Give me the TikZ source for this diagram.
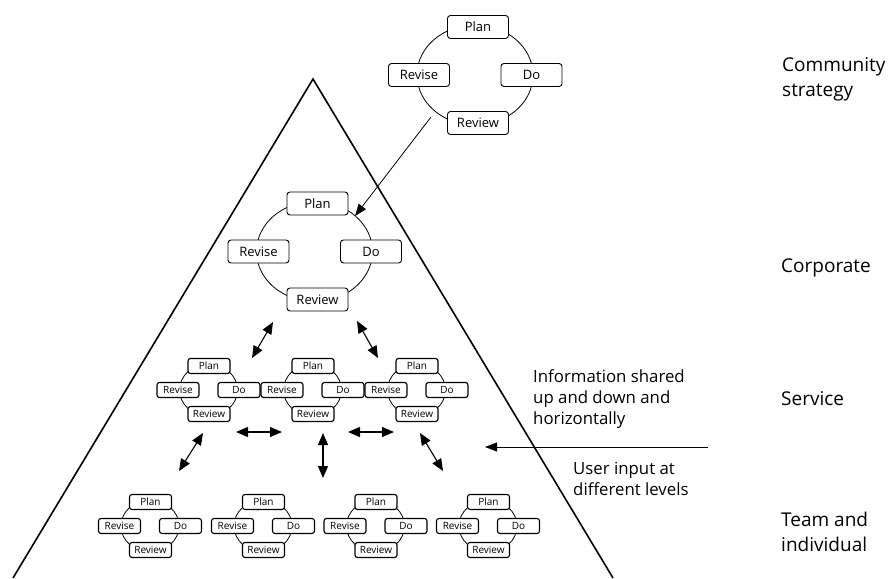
\documentclass[tikz,border=0pt]{standalone}
\usepackage{fontspec}
\setmainfont{Open Sans}
\usetikzlibrary{arrows.meta}

\tikzset{
  bigbox/.style={draw, rounded corners=3pt, fill=white, line width=0.9pt,
    minimum width=61pt, minimum height=23pt, inner sep=0pt,
    font=\fontsize{13}{15}\selectfont},
  smallbox/.style={draw, rounded corners=2.5pt, fill=white, line width=1.1pt,
    minimum width=42pt, minimum height=15pt, inner sep=0pt,
    font=\fontsize{10}{12}\selectfont},
  ring/.style={draw, line width=0.8pt},
  frame/.style={line width=1.6pt, line join=miter},
  link/.style={line width=1.1pt,
    {Triangle[length=12pt,width=10pt]}-{Triangle[length=12pt,width=10pt]}},
  feed/.style={line width=0.8pt, -{Triangle[length=12pt,width=9pt]}},
  % multi-line labels: the base anchor sits on the last line's baseline
  levellabel/.style={anchor=base west, align=left, inner sep=0pt,
    font=\fontsize{19}{25}\selectfont},
  notelabel/.style={anchor=base west, align=left, inner sep=0pt,
    font=\fontsize{16.8}{21}\selectfont}
}

% Plan-Do-Review-Revise cycle, large version: prefix, centre x, centre y
\newcommand\bigloop[3]{%
  \draw[ring] (#2-3,#3) ellipse [x radius=58, y radius=50];
  \node[bigbox] (#1-plan)   at (#2,#3-48)    {Plan};
  \node[bigbox] (#1-revise) at (#2-59,#3)    {Revise};
  \node[bigbox] (#1-do)     at (#2+53.5,#3)  {Do};
  \node[bigbox] (#1-review) at (#2,#3+48)    {Review};
}
% small version of the same cycle
\newcommand\smallloop[3]{%
  \draw[ring] (#2-0.5,#3) ellipse [x radius=29, y radius=26];
  \node[smallbox] (#1-plan)   at (#2,#3-24)  {Plan};
  \node[smallbox] (#1-revise) at (#2-31,#3)  {Revise};
  \node[smallbox] (#1-do)     at (#2+30,#3)  {Do};
  \node[smallbox] (#1-review) at (#2,#3+24)  {Review};
}

\begin{document}
\begin{tikzpicture}[x=1pt, y=-1pt]
  \useasboundingbox (0,0) rectangle (891,578);

  % organisation pyramid
  \coordinate (apex)  at (313,79);
  \coordinate (baseL) at (13,578);
  \coordinate (baseR) at (613,578);
  \draw[frame] (baseL) -- (apex) -- (baseR);

  % cycles
  \bigloop{community}{478}{75}
  \bigloop{corporate}{317.5}{251.5}
  \smallloop{serviceA}{209}{390}
  \smallloop{serviceB}{313}{390}
  \smallloop{serviceC}{417}{390}
  \smallloop{teamA}{150.5}{526}
  \smallloop{teamB}{263.5}{526}
  \smallloop{teamC}{376}{526}
  \smallloop{teamD}{488.5}{526}

  % arrow end points
  \coordinate (c1a) at (273,322);  \coordinate (c1b) at (252,358);
  \coordinate (c2a) at (357,321);  \coordinate (c2b) at (378,358);
  \coordinate (r1a) at (203,433);  \coordinate (r1b) at (179,471);
  \coordinate (h1a) at (236,432);  \coordinate (h1b) at (282,432);
  \coordinate (v1a) at (323,433);  \coordinate (v1b) at (323,478);
  \coordinate (h2a) at (348,432);  \coordinate (h2b) at (394,432);
  \coordinate (r2a) at (420,433);  \coordinate (r2b) at (443,471);
  \coordinate (fa)  at (431,117);  \coordinate (fb)  at (355,216);
  \coordinate (ua)  at (708,447);  \coordinate (ub)  at (485,447);

  % information flow
  \draw[link] (c1a) -- (c1b);
  \draw[link] (c2a) -- (c2b);
  \draw[link] (r1a) -- (r1b);
  \draw[link] (h1a) -- (h1b);
  \draw[link] (v1a) -- (v1b);
  \draw[link] (h2a) -- (h2b);
  \draw[link] (r2a) -- (r2b);
  \draw[feed] (fa) -- (fb);
  \draw[feed] (ua) -- (ub);

  % level names
  \node[levellabel] (lvlcommunity) at (782,96)  {Community\\strategy};
  \node[levellabel] (lvlcorporate) at (781,272) {Corporate};
  \node[levellabel] (lvlservice)   at (781,405) {Service};
  \node[levellabel] (lvlteam)      at (781,551) {Team and\\individual};

  % notes
  \node[notelabel] (noteshared) at (533,424) {Information shared\\up and down and\\horizontally};
  \node[notelabel] (noteinput)  at (573,495) {User input at\\different levels};
\end{tikzpicture}
\end{document}
